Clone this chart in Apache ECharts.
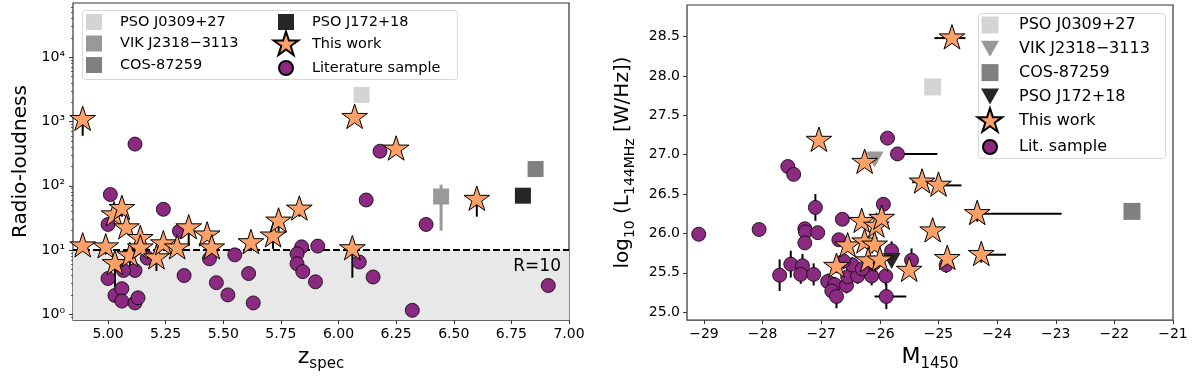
<!DOCTYPE html>
<html><head><meta charset="utf-8">
<script src="https://cdn.jsdelivr.net/npm/echarts@6/dist/echarts.min.js"></script>
<style>html,body{margin:0;padding:0;background:#fff}#c{width:1200px;height:377px}</style>
</head><body><div id="c"></div>
<script>
// ---------- LEFT PANEL DATA (z_spec vs radio-loudness) ----------
const lzStar = [4.89, 4.89, 4.99, 5.03, 5.026, 5.06, 5.08, 5.095, 5.14, 5.14, 5.21, 5.24, 5.30, 5.35, 5.43, 5.45, 5.62, 5.716, 5.74, 5.83, 6.06, 6.07, 6.25, 6.60];
const lrStar = [1070, 11.5, 11.1, 6.1, 35, 44, 22, 8.1, 15, 10.7, 7.5, 12.4, 10.7, 22, 17, 10.7, 12.9, 16.4, 28, 43, 10.4, 1150, 370, 61];
const lrStarLo = [600, 11.5, 8.5, 2.6, 35, 33, 22, 5.3, 15, 10.7, 4.7, 12.4, 10.7, 11.5, 17, 6.8, 9.6, 10.4, 19.5, 33, 3.7, 1150, 370, 33];

const lzLit = [5.01, 5.00, 5.00, 5.03, 5.06, 5.06, 5.117, 5.13, 5.117, 5.067, 5.17, 5.24, 5.31, 5.33, 5.44, 5.47, 5.52, 5.55, 5.61, 5.63, 5.84, 5.82, 5.82, 5.845, 5.90, 5.91, 6.09, 6.15, 6.12, 6.38, 6.32, 6.91, 5.117, 6.18];
const lrLit = [73, 25, 3.6, 1.96, 2.5, 1.6, 1.5, 1.8, 4.8, 4.8, 7.5, 43, 19.6, 4.0, 7.3, 3.1, 2.0, 8.4, 4.3, 1.5, 11.2, 8.7, 6.1, 4.6, 3.2, 11.5, 6.5, 3.8, 60, 25, 1.15, 2.8, 445, 345];

const lPSO0309 = [6.10, 2600];
const lVIK = [6.445, 68];
const lVIKerr = [20, 104];
const lCOS = [6.855, 182];
const lPSO172 = [6.80, 70];
const rThreshold = 10;

// ---------- RIGHT PANEL DATA (M1450 vs log10 L144MHz) ----------
const rmStar = [-24.77, -27.04, -26.26, -25.28, -25.0, -24.34, -25.1, -24.85, -24.27, -25.5, -26.74, -26.55, -26.31, -26.06, -25.97, -26.26, -26.09, -26.2, -26.0];
const rlStar = [28.48, 27.18, 26.90, 26.65, 26.61, 26.25, 26.03, 25.68, 25.73, 25.53, 25.58, 25.84, 26.15, 26.09, 26.19, 25.89, 25.85, 25.65, 25.66];
const rmStarErrMinus = [0.30, 0, 0, 0.17, 0, 0, 0, 0, 0, 0, 0, 0, 0, 0, 0, 0, 0, 0, 0];
const rmStarErrPlus  = [0.23, 0, 0, 0, 0.39, 1.44, 0, 0, 0.42, 0, 0, 0, 0, 0, 0, 0, 0, 0, 0];
const rlStarErr      = [0, 0, 0, 0, 0, 0.1, 0, 0.06, 0.1, 0.05, 0.08, 0, 0, 0, 0, 0, 0, 0, 0];

const rmLit = [-29.09, -28.06, -27.57, -27.47, -27.10, -27.28, -27.27, -27.06, -27.28, -27.52, -27.32, -27.71, -27.35, -27.13, -26.64, -26.70, -26.89, -26.77, -26.82, -26.74, -26.57, -26.55, -26.38, -26.14, -25.90, -26.47, -25.80, -25.89, -25.94, -25.87, -25.70, -25.46, -24.87, -26.10, -26.30, -26.62];
const rlLit = [25.99, 26.05, 26.85, 26.75, 26.33, 26.06, 26.02, 26.01, 25.88, 25.61, 25.59, 25.47, 25.48, 25.48, 26.18, 25.92, 25.39, 25.35, 25.27, 25.20, 25.34, 25.45, 25.46, 25.46, 25.46, 25.60, 25.78, 25.20, 26.37, 27.21, 27.01, 25.66, 25.60, 25.62, 25.55, 25.65];
const rlLitErr = [0.08, 0, 0, 0, 0.17, 0.06, 0, 0.06, 0.08, 0.17, 0.15, 0.2, 0.12, 0.14, 0.06, 0.06, 0.1, 0.1, 0.1, 0.15, 0.1, 0.1, 0.1, 0.12, 0.12, 0.1, 0.12, 0.16, 0.05, 0, 0, 0.15, 0.1, 0.1, 0.1, 0.1];
const rmLitErrMinus = [0,0,0,0,0,0,0,0,0,0,0,0,0,0,0,0,0,0,0,0,0,0,0,0,0,0,0,0.2,0,0,0.08,0,0,0,0,0];
const rmLitErrPlus  = [0,0,0,0,0,0,0,0,0,0,0,0,0,0,0,0,0,0,0,0,0,0,0,0,0,0,0,0.34,0,0,0.68,0,0,0,0,0];

const rPSO0309 = [-25.1, 27.86];
const rVIK = [-26.09, 26.94];
const rCOS = [-21.7, 26.28];
const rPSO172 = [-25.8, 25.65];

// ---------- axis ticks ----------
const lxTicks = [5.00, 5.25, 5.50, 5.75, 6.00, 6.25, 6.50, 6.75, 7.00];
const lyTicks = [1, 10, 100, 1000, 10000];
const rxTicks = [-29, -28, -27, -26, -25, -24, -23, -22, -21];
const ryTicks = [25.0, 25.5, 26.0, 26.5, 27.0, 27.5, 28.0, 28.5];

// ---------- styling ----------
const FONT = 'DejaVu Sans';
const STAR_C = '#fda168', LIT_C = '#8c2a82';
const C0309 = '#d4d4d4', CVIK = '#999999', CCOS = '#808080', C172 = '#262626';
const starPath = 'path://M0,0M100,100M50,0L61.2,34.5L97.55,34.55L68.15,55.9L79.4,90.45L50,69.1L20.6,90.45L31.85,55.9L2.45,34.55L38.8,34.5Z';
const sqIcon = 'path://M0,0M26,26M5,5L21,5L21,21L5,21Z';
const sqIconR = 'path://M0,0M26,26M4.5,4.5L21.5,4.5L21.5,21.5L4.5,21.5Z';
const circIcon = 'path://M0,0M26,26M6,13A7,7 0 1,1 20,13A7,7 0 1,1 6,13Z';
const triIcon = 'path://M0,0M26,26M4,5L22,5L13,21Z';

const lyMin = 0.81, lyMax = 70000;
const sup = ['\u2070','\u00b9','\u00b2','\u00b3','\u2074','\u2075'];

// minor log ticks
const lyMinor = [];
for (let e = -1; e <= 4; e++) for (let k = 2; k <= 9; k++) { const v = k * Math.pow(10, e); if (v > lyMin && v < lyMax) lyMinor.push(v); }

function errRender(color, width) {
  return function (params, api) {
    const x = api.value(0), y = api.value(1);
    const xlo = api.value(2), xhi = api.value(3), ylo = api.value(4), yhi = api.value(5);
    const st = { stroke: color, lineWidth: width };
    const ch = [];
    if (xlo !== xhi) {
      const a = api.coord([xlo, y]), b = api.coord([xhi, y]);
      ch.push({ type: 'line', shape: { x1: a[0], y1: a[1], x2: b[0], y2: b[1] }, style: st });
    }
    if (ylo !== yhi) {
      const a = api.coord([x, ylo]), b = api.coord([x, yhi]);
      ch.push({ type: 'line', shape: { x1: a[0], y1: a[1], x2: b[0], y2: b[1] }, style: st });
    }
    return { type: 'group', children: ch };
  };
}

// error bar tables
const lStarErrData = lzStar.map((z, i) => [z, lrStar[i], z, z, lrStarLo[i], lrStar[i]]);
const lVIKErrData = [[lVIK[0], lVIK[1], lVIK[0], lVIK[0], lVIKerr[0], lVIKerr[1]]];
const rStarErrData = rmStar.map((m, i) => [m, rlStar[i], m - rmStarErrMinus[i], m + rmStarErrPlus[i], rlStar[i] - rlStarErr[i], rlStar[i] + rlStarErr[i]]);
const rLitErrData = rmLit.map((m, i) => [m, rlLit[i], m - rmLitErrMinus[i], m + rmLitErrPlus[i], rlLit[i] - rlLitErr[i], rlLit[i] + rlLitErr[i]]);

const axisLabelStyle = { color: '#000', fontSize: 14, fontFamily: FONT };
const tickStyle = { show: true, inside: false, length: 4, lineStyle: { color: '#333', width: 1 } };

const chart = echarts.init(document.getElementById('c'), null, { renderer: 'canvas' });
const option = {
  animation: false,
  textStyle: { fontFamily: FONT },
  grid: [
    { left: 73, top: 3, width: 496, height: 322, show: true, borderColor: '#333', borderWidth: 1.2, backgroundColor: 'transparent' },
    { left: 687, top: 5, width: 486, height: 317, show: true, borderColor: '#333', borderWidth: 1.2, backgroundColor: 'transparent' }
  ],
  xAxis: [
    { type: 'value', gridIndex: 0, min: 4.848, max: 7.0, splitLine: { show: false }, axisLine: { show: false },
      axisTick: Object.assign({ customValues: lxTicks }, tickStyle),
      axisLabel: Object.assign({ customValues: lxTicks, margin: 7, formatter: v => v.toFixed(2) }, axisLabelStyle),
      name: '{a|z}{s|spec}', nameLocation: 'middle', nameGap: 22,
      nameTextStyle: { rich: { a: { fontSize: 22, fontFamily: FONT, color: '#000', verticalAlign: 'bottom', padding: [0, 0, 4, 0] }, s: { fontSize: 15, fontFamily: FONT, color: '#000', verticalAlign: 'bottom' } } } },
    { type: 'value', gridIndex: 1, min: -29.29, max: -21, splitLine: { show: false }, axisLine: { show: false },
      axisTick: Object.assign({ customValues: rxTicks }, tickStyle),
      axisLabel: Object.assign({ customValues: rxTicks, margin: 7, formatter: v => (v < 0 ? '\u2212' : '') + Math.abs(v) }, axisLabelStyle),
      name: '{a|M}{s|1450}', nameLocation: 'middle', nameGap: 24,
      nameTextStyle: { rich: { a: { fontSize: 22, fontFamily: FONT, color: '#000', verticalAlign: 'bottom', padding: [0, 0, 4, 0] }, s: { fontSize: 15, fontFamily: FONT, color: '#000', verticalAlign: 'bottom' } } } }
  ],
  yAxis: [
    { type: 'log', logBase: 10, gridIndex: 0, min: lyMin, max: lyMax, splitLine: { show: false }, axisLine: { show: false },
      axisTick: Object.assign({ customValues: lyTicks }, tickStyle),
      axisLabel: Object.assign({ customValues: lyTicks, margin: 8, formatter: v => '10' + sup[Math.round(Math.log10(v))] }, axisLabelStyle),
      name: 'Radio-loudness', nameLocation: 'middle', nameGap: 42,
      nameTextStyle: { fontSize: 20, fontFamily: FONT, color: '#000' } },
    { type: 'log', logBase: 10, gridIndex: 0, min: lyMin, max: lyMax, position: 'left', splitLine: { show: false }, axisLine: { show: false },
      axisTick: { show: true, customValues: lyMinor, length: 2, lineStyle: { color: '#333', width: 0.8 } },
      axisLabel: { show: false } },
    { type: 'value', gridIndex: 1, min: 24.9, max: 28.9, splitLine: { show: false }, axisLine: { show: false },
      axisTick: Object.assign({ customValues: ryTicks }, tickStyle),
      axisLabel: Object.assign({ customValues: ryTicks, margin: 7, formatter: v => v.toFixed(1) }, axisLabelStyle),
      name: '{a|log}{s|10}{a| (L}{s|144MHz}{a| [W/Hz])}', nameLocation: 'middle', nameGap: 50,
      nameTextStyle: { rich: { a: { fontSize: 20, fontFamily: FONT, color: '#000', verticalAlign: 'bottom', padding: [0, 0, 4, 0] }, s: { fontSize: 14, fontFamily: FONT, color: '#000', verticalAlign: 'bottom' } } } }
  ],
  legend: [
    { left: 81, top: 9, orient: 'vertical', padding: 0, itemGap: -4.5, itemWidth: 42, itemHeight: 26, selectedMode: false,
      textStyle: { fontSize: 14.5, color: '#000', fontFamily: FONT },
      data: [{ name: 'PSO J0309+27', icon: sqIcon }, { name: 'VIK J2318\u22123113', icon: sqIcon }, { name: 'COS-87259', icon: sqIcon }] },
    { left: 272, top: 9, orient: 'vertical', padding: 0, itemGap: -4.5, itemWidth: 42, itemHeight: 26, selectedMode: false,
      textStyle: { fontSize: 14.5, color: '#000', fontFamily: FONT },
      data: [{ name: 'PSO J172+18', icon: sqIcon }, { name: 'This work', icon: starPath }, { name: 'Literature sample', icon: circIcon }] },
    { left: 976, top: 12, orient: 'vertical', padding: 0, itemGap: -2.2, itemWidth: 48, itemHeight: 26, selectedMode: false,
      textStyle: { fontSize: 16, color: '#000', fontFamily: FONT },
      data: [{ name: 'PSO J0309+27', icon: sqIconR }, { name: 'VIK J2318\u22123113', icon: triIcon }, { name: 'COS-87259', icon: sqIconR },
             { name: 'PSO J172+18', icon: triIcon }, { name: 'This work', icon: starPath }, { name: 'Lit. sample', icon: circIcon }] }
  ],
  graphic: [
    { type: 'rect', left: 82, top: 10, shape: { width: 375, height: 69, r: 3 }, style: { fill: 'rgba(255,255,255,0.8)', stroke: '#d8d8d8', lineWidth: 1 }, z: 0 },
    { type: 'rect', left: 978, top: 13, shape: { width: 187, height: 145, r: 3 }, style: { fill: 'rgba(255,255,255,0.8)', stroke: '#d8d8d8', lineWidth: 1 }, z: 0 }
  ],
  series: [
    // left: shading + threshold line
    { type: 'custom', xAxisIndex: 0, yAxisIndex: 0, renderItem: errRender('#000', 2), data: lStarErrData, z: 3, silent: true,
      markArea: { silent: true, z: 1, itemStyle: { color: '#e8e8e8' }, data: [[{ yAxis: lyMin }, { yAxis: rThreshold }]] },
      markLine: { silent: true, z: 2, symbol: 'none', lineStyle: { color: '#000', type: [7, 3], width: 2 },
        label: { show: true, position: 'insideEndBottom', formatter: 'R=10', fontSize: 17, color: '#000', fontFamily: FONT, distance: [8, 8] },
        data: [{ yAxis: rThreshold }] } },
    { type: 'custom', xAxisIndex: 0, yAxisIndex: 0, renderItem: errRender(CVIK, 3), data: lVIKErrData, z: 3, silent: true },
    { name: 'Literature sample', type: 'scatter', xAxisIndex: 0, yAxisIndex: 0, symbol: 'circle', symbolSize: 14, z: 4,
      itemStyle: { color: LIT_C, borderColor: '#000', borderWidth: 0.8, opacity: 1 }, data: lzLit.map((z, i) => [z, lrLit[i]]) },
    { name: 'PSO J0309+27', type: 'scatter', xAxisIndex: 0, yAxisIndex: 0, symbol: 'rect', symbolSize: 16, z: 5, itemStyle: { color: C0309, opacity: 1 }, data: [lPSO0309] },
    { name: 'VIK J2318\u22123113', type: 'scatter', xAxisIndex: 0, yAxisIndex: 0, symbol: 'rect', symbolSize: 16, z: 5, itemStyle: { color: CVIK, opacity: 1 }, data: [lVIK] },
    { name: 'COS-87259', type: 'scatter', xAxisIndex: 0, yAxisIndex: 0, symbol: 'rect', symbolSize: 16, z: 5, itemStyle: { color: CCOS, opacity: 1 }, data: [lCOS] },
    { name: 'PSO J172+18', type: 'scatter', xAxisIndex: 0, yAxisIndex: 0, symbol: 'rect', symbolSize: 16, z: 5, itemStyle: { color: C172, opacity: 1 }, data: [lPSO172] },
    { name: 'This work', type: 'scatter', xAxisIndex: 0, yAxisIndex: 0, symbol: starPath, symbolSize: 27, symbolKeepAspect: true, z: 6,
      itemStyle: { color: STAR_C, borderColor: '#000', borderWidth: 1, opacity: 1 }, data: lzStar.map((z, i) => [z, lrStar[i]]) },

    // right panel
    { type: 'custom', xAxisIndex: 1, yAxisIndex: 2, renderItem: errRender('#000', 2), data: rLitErrData, z: 3, silent: true },
    { type: 'custom', xAxisIndex: 1, yAxisIndex: 2, renderItem: errRender('#000', 2), data: rStarErrData, z: 3, silent: true },
    { name: 'Lit. sample', type: 'scatter', xAxisIndex: 1, yAxisIndex: 2, symbol: 'circle', symbolSize: 14, z: 4,
      itemStyle: { color: LIT_C, borderColor: '#000', borderWidth: 0.8, opacity: 1 }, data: rmLit.map((m, i) => [m, rlLit[i]]) },
    { name: 'PSO J0309+27', type: 'scatter', xAxisIndex: 1, yAxisIndex: 2, symbol: 'rect', symbolSize: 17, z: 5, itemStyle: { color: C0309, opacity: 1 }, data: [rPSO0309] },
    { name: 'VIK J2318\u22123113', type: 'scatter', xAxisIndex: 1, yAxisIndex: 2, symbol: 'triangle', symbolRotate: 180, symbolSize: [18, 16], z: 5, itemStyle: { color: CVIK, opacity: 1 }, data: [rVIK] },
    { name: 'COS-87259', type: 'scatter', xAxisIndex: 1, yAxisIndex: 2, symbol: 'rect', symbolSize: 17, z: 5, itemStyle: { color: CCOS, opacity: 1 }, data: [rCOS] },
    { name: 'PSO J172+18', type: 'scatter', xAxisIndex: 1, yAxisIndex: 2, symbol: 'triangle', symbolRotate: 180, symbolSize: [18, 16], z: 5, itemStyle: { color: C172, opacity: 1 }, data: [rPSO172] },
    { name: 'This work', type: 'scatter', xAxisIndex: 1, yAxisIndex: 2, symbol: starPath, symbolSize: 27, symbolKeepAspect: true, z: 6,
      itemStyle: { color: STAR_C, borderColor: '#000', borderWidth: 1, opacity: 1 }, data: rmStar.map((m, i) => [m, rlStar[i]]) }
  ]
};
chart.setOption(option);
</script></body></html>
